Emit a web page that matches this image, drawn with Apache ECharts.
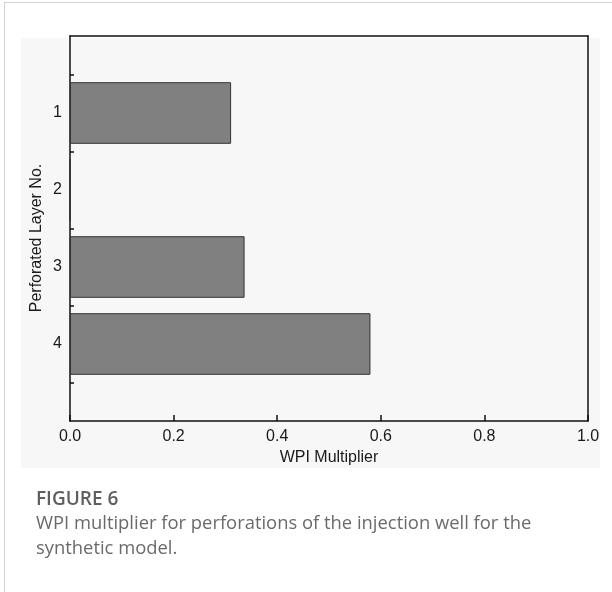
<!DOCTYPE html>
<html>
<head>
<meta charset="utf-8">
<script src="https://cdn.jsdelivr.net/npm/echarts@6/dist/echarts.min.js"></script>
<style>
html,body{margin:0;padding:0;background:#fff;}
#wrap{position:relative;width:612px;height:592px;overflow:hidden;}
#frame{position:absolute;left:4px;top:2px;width:620px;height:600px;border-left:1.5px solid #d3d3d3;border-top:1.5px solid #d3d3d3;box-sizing:border-box;pointer-events:none;}
#chart{position:absolute;left:0;top:0;width:612px;height:592px;}
</style>
</head>
<body>
<div id="wrap"><div id="chart"></div><div id="frame"></div></div>
<script>
var categories = ['1', '2', '3', '4'];
var wpiMultiplier = [0.311, 0, 0.337, 0.580];
var xTicks = [0, 0.2, 0.4, 0.6, 0.8, 1.0];
var xTitle = 'WPI Multiplier';
var yTitle = 'Perforated Layer No.';
var captionTitle = 'FIGURE 6';
var captionText = 'WPI multiplier for perforations of the injection well for the\nsynthetic model.';

var chart = echarts.init(document.getElementById('chart'), null, {renderer: 'canvas'});
var axisFont = {fontFamily: 'Liberation Sans', fontSize: 16, color: '#1a1a1a'};
var lineStyle = {color: '#111', width: 1.5};

var option = {
  backgroundColor: '#fff',
  animation: false,
  graphic: [{
    type: 'rect', z: -10, silent: true,
    shape: {x: 21, y: 38, width: 579, height: 430},
    style: {fill: '#f7f7f7'}
  }],
  title: {
    left: 31, top: 485,
    text: captionTitle,
    textStyle: {fontFamily: 'Open Sans', fontWeight: 600, fontSize: 19, color: '#5f5f5f'},
    subtext: captionText,
    itemGap: 2,
    subtextStyle: {fontFamily: 'Open Sans', fontSize: 18.4, color: '#6a6a6a', lineHeight: 25}
  },
  grid: [
    {left: 70, right: 24, top: 36, bottom: 171, containLabel: false},
    {left: 70, right: 24, top: 74.5, bottom: 209.5, containLabel: false}
  ],
  xAxis: [
    {
      gridIndex: 0, type: 'value', min: xTicks[0], max: xTicks[xTicks.length - 1], interval: 0.2,
      axisLine: {show: true, onZero: false, lineStyle: lineStyle},
      axisTick: {show: true, inside: true, length: 6, lineStyle: lineStyle},
      axisLabel: Object.assign({margin: 8, formatter: function (v) { return v.toFixed(1); }}, axisFont),
      splitLine: {show: false},
      name: xTitle, nameLocation: 'middle', nameGap: 28,
      nameTextStyle: axisFont
    },
    {
      gridIndex: 0, type: 'value', position: 'top', min: 0, max: 1,
      axisLine: {show: true, onZero: false, lineStyle: lineStyle},
      axisTick: {show: false}, axisLabel: {show: false}, splitLine: {show: false}
    },
    {gridIndex: 1, type: 'value', min: 0, max: 1, show: false}
  ],
  yAxis: [
    {
      gridIndex: 0, type: 'value', min: 0, max: 1,
      axisLine: {show: true, onZero: false, lineStyle: lineStyle},
      axisTick: {show: false}, axisLabel: {show: false}, splitLine: {show: false},
      name: yTitle, nameLocation: 'middle', nameRotate: 90, nameGap: 25,
      nameTextStyle: Object.assign({padding: [0, 19, 0, 0]}, axisFont)
    },
    {
      gridIndex: 0, type: 'value', position: 'right', min: 0, max: 1,
      axisLine: {show: true, onZero: false, lineStyle: lineStyle},
      axisTick: {show: false}, axisLabel: {show: false}, splitLine: {show: false}
    },
    {
      gridIndex: 1, type: 'category', data: categories, inverse: true,
      axisLine: {show: false},
      axisTick: {show: true, inside: true, length: 4, interval: 0, lineStyle: lineStyle},
      axisLabel: Object.assign({margin: 8}, axisFont),
      splitLine: {show: false}
    }
  ],
  series: [{
    type: 'bar', xAxisIndex: 2, yAxisIndex: 2,
    data: wpiMultiplier,
    barCategoryGap: '20%',
    itemStyle: {color: '#808080', borderColor: '#333', borderWidth: 1}
  }]
};
chart.setOption(option);
</script>
</body>
</html>
